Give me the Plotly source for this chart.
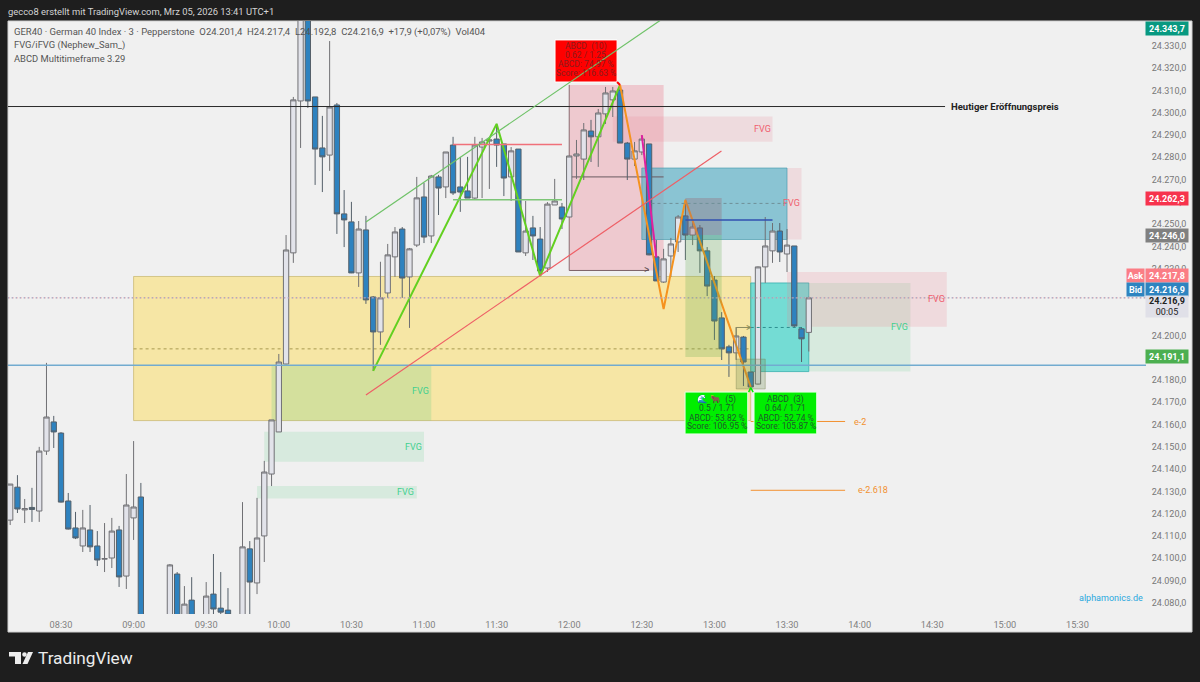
import pandas as pd
import plotly.graph_objects as go

DAY = "2026-03-05 "

# 3 minute candles
opens = [
    24117.1, 24131.9, 24121.7, 24122.8, 24121.2, 24148.1, 24161.2, 24156.2, 24125.7, 24113.6,
    24105.5, 24112.7, 24105.5, 24099.6, 24100.1, 24112.7, 24092.0, 24118.1, 24127.5, 24063.0,
    24050.0, 24058.0, 24068.0, 24092.9, 24070.0, 24081.2, 24070.0, 24072.0, 24083.9, 24077.6,
    24076.7, 24074.0, 24070.0, 24104.2, 24088.9, 24110.0, 24137.8, 24156.7, 24187.2, 24237.1,
    24305.3, 24343.0, 24307.1, 24284.2, 24281.0, 24303.5, 24254.6, 24251.0, 24228.1, 24247.4,
    24217.3, 24201.6, 24219.1, 24235.3, 24247.8, 24226.3, 24240.6, 24262.2, 24244.7, 24271.2,
    24266.7, 24285.5, 24266.7, 24264.9, 24261.7, 24284.6, 24287.3, 24288.2, 24286.0, 24271.2,
    24283.7, 24237.1, 24248.3, 24243.3, 24230.3, 24258.6, 24257.7, 24253.2, 24280.6, 24279.2,
    24291.8, 24289.2, 24299.5, 24305.8, 24310.2, 24286.4, 24279.2, 24282.4, 24286.0, 24235.3,
    24224.0, 24235.7, 24242.0, 24253.7, 24245.1, 24248.3, 24238.0, 24224.9, 24207.9, 24194.9,
    24192.2, 24199.3, 24183.6, 24178.2, 24230.8, 24238.0, 24246.9, 24236.6, 24240.2, 24203.0,
    24201.4,
]
highs = [
    24133.3, 24137.3, 24126.6, 24131.6, 24150.0, 24187.7, 24163.9, 24156.6, 24129.3, 24120.8,
    24121.7, 24123.9, 24112.2, 24115.8, 24118.1, 24114.5, 24137.8, 24152.6, 24133.8, 24068.0,
    24066.0, 24072.0, 24097.4, 24093.8, 24087.5, 24091.5, 24074.5, 24089.3, 24101.9, 24093.8,
    24086.6, 24074.5, 24125.2, 24107.7, 24127.1, 24143.7, 24162.1, 24191.7, 24245.1, 24307.1,
    24343.7, 24343.7, 24307.1, 24298.6, 24332.2, 24304.4, 24265.3, 24260.0, 24251.4, 24253.7,
    24217.7, 24233.1, 24241.1, 24248.7, 24248.7, 24239.3, 24271.2, 24268.5, 24272.1, 24272.1,
    24282.4, 24289.2, 24280.2, 24280.2, 24289.2, 24288.7, 24288.7, 24295.0, 24286.0, 24284.6,
    24283.7, 24260.4, 24253.7, 24248.7, 24259.9, 24270.3, 24259.5, 24280.6, 24287.8, 24295.4,
    24296.8, 24301.7, 24311.6, 24311.6, 24312.5, 24286.9, 24286.9, 24290.0, 24286.0, 24242.9,
    24238.9, 24243.8, 24254.1, 24260.9, 24252.3, 24249.6, 24239.7, 24226.7, 24210.5, 24195.8,
    24203.8, 24199.8, 24183.6, 24231.0, 24253.2, 24250.5, 24250.5, 24247.8, 24240.2, 24203.8,
    24217.4,
]
lows = [
    24114.9, 24120.3, 24115.8, 24116.3, 24116.3, 24146.4, 24149.5, 24125.0, 24112.9, 24108.6,
    24102.8, 24102.8, 24096.5, 24093.8, 24095.6, 24087.1, 24086.2, 24108.2, 24060.0, 24048.0,
    24046.0, 24055.0, 24064.0, 24066.0, 24066.0, 24066.0, 24066.0, 24068.0, 24072.0, 24074.0,
    24073.0, 24068.0, 24066.0, 24072.0, 24083.9, 24098.3, 24132.4, 24156.7, 24187.0, 24232.6,
    24284.2, 24302.2, 24267.6, 24264.4, 24273.9, 24245.6, 24239.7, 24228.0, 24221.8, 24214.2,
    24184.1, 24195.8, 24216.9, 24226.3, 24216.9, 24203.4, 24239.7, 24241.5, 24241.5, 24254.1,
    24261.7, 24263.1, 24255.5, 24261.7, 24260.9, 24261.7, 24265.8, 24275.7, 24262.6, 24260.4,
    24237.5, 24235.7, 24233.9, 24226.7, 24228.5, 24258.6, 24247.8, 24253.2, 24270.3, 24269.8,
    24277.9, 24275.7, 24295.0, 24298.1, 24286.4, 24269.8, 24276.1, 24281.0, 24236.0, 24224.5,
    24223.6, 24226.3, 24237.5, 24233.9, 24240.6, 24228.1, 24217.7, 24198.0, 24189.0, 24181.4,
    24189.0, 24177.3, 24176.9, 24178.0, 24223.6, 24232.6, 24233.0, 24228.5, 24203.4, 24188.1,
    24192.8,
]
closes = [
    24133.3, 24122.1, 24122.3, 24121.9, 24148.1, 24163.4, 24156.7, 24125.2, 24113.1, 24109.1,
    24113.6, 24105.1, 24099.2, 24099.8, 24112.2, 24091.6, 24123.9, 24123.0, 24063.3, 24050.0,
    24058.0, 24068.0, 24097.0, 24070.0, 24079.4, 24070.0, 24073.0, 24083.0, 24077.2, 24075.8,
    24074.5, 24072.0, 24105.1, 24089.3, 24109.1, 24138.7, 24162.1, 24188.1, 24238.4, 24305.8,
    24343.0, 24305.3, 24283.7, 24280.2, 24302.6, 24254.6, 24251.9, 24228.1, 24247.8, 24216.0,
    24201.6, 24216.9, 24236.2, 24246.5, 24225.8, 24238.9, 24261.8, 24244.2, 24271.6, 24266.2,
    24282.4, 24264.0, 24264.4, 24261.7, 24285.5, 24286.9, 24287.8, 24285.5, 24270.7, 24282.9,
    24237.5, 24246.9, 24244.7, 24229.0, 24259.0, 24260.4, 24252.3, 24280.6, 24281.5, 24292.3,
    24289.2, 24299.9, 24308.9, 24309.8, 24286.4, 24279.2, 24282.9, 24288.2, 24236.2, 24224.5,
    24234.4, 24241.1, 24253.2, 24245.1, 24248.7, 24238.0, 24222.2, 24206.5, 24194.0, 24192.2,
    24199.8, 24188.1, 24176.9, 24230.8, 24240.2, 24246.9, 24237.5, 24240.6, 24204.3, 24198.5,
    24216.9,
]
times = pd.date_range(DAY + "08:09", periods=len(opens), freq="3min")

x_ticks = ["08:30", "09:00", "09:30", "10:00", "10:30", "11:00", "11:30", "12:00",
           "12:30", "13:00", "13:30", "14:00", "14:30", "15:00", "15:30"]
y_ticks = [24330, 24320, 24310, 24300, 24290, 24280, 24270, 24260, 24250, 24240, 24230, 24210,
           24200, 24180, 24170, 24160, 24150, 24140, 24130, 24120, 24110, 24100, 24090, 24080]
y_labels = ["24.330,0", "24.320,0", "24.310,0", "24.300,0", "24.290,0", "24.280,0", "24.270,0",
            "24.260,0", "24.250,0", "24.240,0", "24.230,0", "24.210,0", "24.200,0",
            "24.180,0", "24.170,0", "24.160,0", "24.150,0", "24.140,0", "24.130,0",
            "24.120,0", "24.110,0", "24.100,0", "24.090,0", "24.080,0"]

# abcd legs
green_leg_t = ["10:39", "11:30", "11:48", "12:21"]
green_leg_p = [24184.1, 24295.0, 24226.7, 24312.5]
orange_leg_t = ["12:21", "12:39", "12:48", "13:15"]
orange_leg_p = [24312.5, 24211.9, 24260.9, 24176.9]
magenta_leg_t = ["12:30", "12:36"]
magenta_leg_p = [24290.0, 24235.0]

# callout texts, one line each
red_callout = ["ABCD  (10)", "0.62 / 1.25", "ABCD: 74.97 %", "Score: 116.63 %"]
left_callout = ["🌊 🐂  (5)", "0.5 / 1.71", "ABCD: 53.82 %", "Score: 106.95 %"]
right_callout = ["ABCD  (3)", "0.64 / 1.71", "ABCD: 52.74 %", "Score: 105.87 %"]

FONT = "Roboto"
BULL_FILL = "#e2e3ea"
BEAR_FILL = "#2e82bf"
GREEN = "#62d020"
ORANGE = "#f5921e"
FVG_RED = "#f0606e"
FVG_GREEN = "#3fd08f"

# plot area in the 1200x682 picture
L, R, T, B = 8, 1146, 21, 614


def ts(hhmm):
    return DAY + hhmm


def px(x):
    return (x - L) / (R - L)


def py(y):
    return 1 - (y - T) / (B - T)


fig = go.Figure()
fig.add_trace(go.Candlestick(
    x=times, open=opens, high=highs, low=lows, close=closes,
    increasing=dict(line=dict(color="#707074", width=1), fillcolor=BULL_FILL),
    decreasing=dict(line=dict(color="#55606a", width=1), fillcolor=BEAR_FILL),
    hoverinfo="skip",
))

for leg_t, leg_p, colour in [(green_leg_t, green_leg_p, GREEN),
                             (orange_leg_t, orange_leg_p, ORANGE),
                             (magenta_leg_t, magenta_leg_p, "#e020a0")]:
    fig.add_trace(go.Scatter(x=[ts(t) for t in leg_t], y=leg_p, mode="lines",
                             line=dict(color=colour, width=2), hoverinfo="skip"))

shapes = []


def box(t0, t1, p0, p1, fill, line=None, layer="below"):
    shapes.append(dict(type="rect", xref="x", yref="y", x0=ts(t0), x1=ts(t1), y0=p0, y1=p1,
                       fillcolor=fill, layer=layer,
                       line=dict(color=line or "rgba(0,0,0,0)", width=1)))


def seg(t0, p0, t1, p1, colour, width=1, dash="solid", layer="above"):
    shapes.append(dict(type="line", xref="x", yref="y", x0=ts(t0), x1=ts(t1), y0=p0, y1=p1,
                       layer=layer, line=dict(color=colour, width=width, dash=dash)))


# frame, drawn on the paper
shapes.append(dict(type="rect", xref="paper", yref="paper", x0=0, x1=px(1192), y0=py(632), y1=1,
                   fillcolor="#f0f0f0", line=dict(color="#d0d0d0", width=1), layer="below"))

# zones under the candles
box("09:00", "13:15", 24226.5, 24161.8, "rgba(252,220,90,0.5)", "rgba(190,170,90,0.6)")
box("09:57", "11:03", 24186.3, 24161.8, "rgba(90,205,130,0.22)")
box("09:54", "11:00", 24156.8, 24143.3, "rgba(90,205,130,0.16)")
box("09:51", "10:57", 24132.4, 24126.8, "rgba(90,205,130,0.16)")
box("12:00", "12:39", 24312.5, 24229.2, "rgba(235,130,145,0.35)")
box("12:18", "13:24", 24298.3, 24287.0, "rgba(235,130,145,0.18)")
box("12:30", "13:36", 24275.2, 24243.1, "rgba(235,130,145,0.18)")
box("12:30", "13:30", 24275.2, 24243.1, "rgba(85,185,205,0.65)", "rgba(60,150,170,0.6)")
box("13:15", "14:21", 24223.6, 24183.8, "rgba(90,205,130,0.16)")
box("13:15", "13:39", 24223.6, 24183.8, "rgba(50,210,205,0.6)", "rgba(40,170,170,0.7)")
box("13:30", "14:36", 24228.5, 24203.9, "rgba(235,130,145,0.2)")

seg("09:00", 24194.0, "13:15", 24194.0, "#a89a50", dash="dot", layer="below")
seg("12:00", 24312.5, "12:00", 24229.2, "#8a6a70", layer="below")
seg("12:00", 24229.2, "12:33", 24229.2, "#7a6066", layer="below")
seg("12:00", 24271.2, "12:39", 24271.2, "#6a5a60", layer="below")

# price lines
seg("08:08", 24302.8, "14:35:18", 24302.8, "#2a2a2a", width=1)
seg("08:08", 24186.6, "15:59", 24186.6, "#72abd0", width=1.5)
seg("08:08", 24216.9, "15:59", 24216.9, "#f2a0a6", dash="2px,2px")
seg("08:08", 24216.9, "15:59", 24216.9, "#6aa6d0", dash="1px,3px")

# zones over the candles
box("12:48", "13:03", 24261.7, 24245.1, "rgba(150,110,120,0.35)", None, "above")
box("12:48", "13:03", 24245.1, 24190.4, "rgba(100,170,80,0.25)", None, "above")
box("13:09", "13:21", 24189.4, 24176.0, "rgba(110,140,80,0.28)", "rgba(120,130,80,0.4)", "above")
seg("12:34", 24259.3, "13:30", 24259.3, "#6f8f98", dash="dot")
seg("13:15", 24203.6, "13:36", 24203.6, "#2f8f90", dash="dot")
seg("13:09", 24203.6, "13:09", 24189.4, "#8a8a60")
seg("13:09", 24203.6, "13:15", 24203.6, "#8a8a60")

seg("11:12", 24285.8, "11:57", 24285.8, "#f0707a", width=1.5)
seg("11:12", 24260.9, "11:57", 24260.9, "#7cc576", width=1.5)
seg("12:48", 24251.9, "13:24", 24251.9, "#3050b0", width=1.5)
seg("13:15", 24161.4, "13:54", 24161.4, "#f29030")
seg("13:15", 24130.5, "13:54", 24130.5, "#f29030")

# callout boxes
box("11:54:08", "12:19:47", 24332.7, 24313.8, "#ff0000", "#ffffff", "above")
box("12:47:52", "13:13:46", 24174.6, 24155.8, "#00ee00", "#e8ffe8", "above")
box("13:16:22", "13:42:16", 24174.6, 24155.8, "#00ee00", "#e8ffe8", "above")
seg("12:19:47", 24313.8, "12:21", 24312.5, "#ff0000", width=2)
seg("13:14:10", 24174.6, "13:15", 24176.6, "#00ee00", width=1.5)
seg("13:15", 24176.6, "13:16:00", 24174.6, "#00ee00", width=1.5)

# channel lines run over everything
seg("10:36", 24251.0, "12:37:54", 24341.7, "#6fc268", width=1.2)
seg("10:36", 24173.3, "13:02:54", 24282.8, "#ee5f66", width=1.2)

notes = []


def text(t, p, label, colour, size=9, anchor="center", bold=False):
    if bold:
        label = "<b>" + label + "</b>"
    notes.append(dict(xref="x", yref="y", x=ts(t), y=p, text=label, showarrow=False,
                      xanchor=anchor, font=dict(family=FONT, size=size, color=colour)))


def screen(x, y, label, colour, size=9.5, anchor="left", bold=False):
    if bold:
        label = "<b>" + label + "</b>"
    notes.append(dict(xref="paper", yref="paper", x=px(x), y=py(y), text=label, showarrow=False,
                      xanchor=anchor, yanchor="middle",
                      font=dict(family=FONT, size=size, color=colour)))


text("10:58:45", 24175.0, "FVG", FVG_GREEN)
text("10:55:30", 24150.0, "FVG", FVG_GREEN)
text("10:52:30", 24129.6, "FVG", FVG_GREEN)
text("13:19:40", 24292.6, "FVG", FVG_RED)
text("13:31:40", 24259.3, "FVG", FVG_RED)
text("14:31:35", 24216.4, "FVG", FVG_RED)
text("14:16:40", 24203.6, "FVG", FVG_GREEN)
text("14:00", 24161.1, "e-2", "#f29030")
text("14:05:30", 24130.5, "e-2.618", "#f29030")
text("14:36:58", 24302.8, "Heutiger Eröffnungspreis", "#222222", size=9.5, anchor="left", bold=True)
text("12:32", 24229.6, "&gt;", "#5a4a50", size=10)
text("13:14", 24203.8, "&gt;", "#8a8a50", size=10)

red_rows = [24329.7, 24325.9, 24321.9, 24318.0]
green_rows = [24171.2, 24167.4, 24163.1, 24159.4]
for label, row in zip(red_callout, red_rows):
    text("12:06:54", row, label, "#8a1c1c", size=8.5)
for label, row in zip(left_callout, green_rows):
    text("13:00:54", row, label, "#1f5a2a", size=8.5)
for label, row in zip(right_callout, green_rows):
    text("13:29:24", row, label, "#1f5a2a", size=8.5)

screen(6, 11, "gecco8 erstellt mit TradingView.com, Mrz 05, 2026 13:41 UTC+1", "#d4d4d4", size=9.4)
screen(12, 32, "GER40 · German 40 Index · 3 · Pepperstone  O24.201,4  H24.217,4  L24.192,8  C24.216,9  +17,9 (+0,07%)  Vol404",
       "#555555")
screen(12, 45, "FVG/iFVG (Nephew_Sam_)", "#555555", size=9.4)
screen(12, 58, "ABCD Multitimeframe 3.29", "#555555", size=9.4)
screen(1077, 598, "alphamonics.de", "#2aa8de", size=9)
screen(36, 658, "TradingView", "#ececec", size=17.2)

# price tags on the axis
tag_texts = ["24.343,7", "24.262,3", "24.246,0", "24.217,8", "24.216,9", "24.191,1"]
tag_colours = ["#089981", "#f7334d", "#808080", "#fb7d85", "#2e84c0", "#4caf50"]
tag_rows = [28, 198.7, 235, 275.5, 289.5, 356.5]
for label, colour, row in zip(tag_texts, tag_colours, tag_rows):
    notes.append(dict(xref="paper", yref="paper", x=px(1145), y=py(row), text="<b>" + label + "</b>",
                      showarrow=False, xanchor="left", yanchor="middle", bgcolor=colour,
                      width=42, height=13, borderpad=0,
                      font=dict(family=FONT, size=9, color="#ffffff")))
for label, colour, row in [("Ask", "#fb7d85", 275.5), ("Bid", "#2e84c0", 289.5)]:
    notes.append(dict(xref="paper", yref="paper", x=px(1126), y=py(row), text="<b>" + label + "</b>",
                      showarrow=False, xanchor="left", yanchor="middle", bgcolor=colour,
                      width=17, height=13, borderpad=0,
                      font=dict(family=FONT, size=9, color="#ffffff")))
notes.append(dict(xref="paper", yref="paper", x=px(1145), y=py(306.5),
                  text="<b>24.216,9</b><br>00:05", showarrow=False, xanchor="left", yanchor="middle",
                  bgcolor="#e0e0e8", width=42, height=21, borderpad=0,
                  font=dict(family=FONT, size=9, color="#222222")))


# tradingview mark, drawn on the paper
def paper_path(points):
    return "M " + " L ".join(f"{px(x):.5f},{py(y):.5f}" for x, y in points) + " Z"


for pts in [[(9, 652), (21, 652), (21, 664), (15, 664), (15, 656.5), (9, 656.5)],
            [(28, 652), (33, 652), (27.5, 664), (22.5, 664)]]:
    shapes.append(dict(type="path", xref="paper", yref="paper", path=paper_path(pts),
                       fillcolor="#ececec", line=dict(width=0), layer="above"))
shapes.append(dict(type="circle", xref="paper", yref="paper", x0=px(22.2), x1=px(26.8), y0=py(656.8), y1=py(652.2),
                   fillcolor="#ececec", line=dict(width=0), layer="above"))

fig.update_layout(
    width=1200,
    height=682,
    margin=dict(l=L, r=1200 - R, t=T, b=682 - B),
    paper_bgcolor="#1e1e1e",
    plot_bgcolor="#f0f0f0",
    showlegend=False,
    boxgap=0.27,
    boxgroupgap=0,
    shapes=shapes,
    annotations=notes,
    xaxis=dict(
        type="date",
        range=[ts("08:08:06"), ts("15:58:20")],
        rangeslider=dict(visible=False),
        showgrid=False,
        zeroline=False,
        showline=False,
        tickmode="array",
        tickvals=[ts(t) for t in x_ticks],
        ticktext=x_ticks,
        ticks="outside",
        ticklen=2,
        tickcolor="rgba(0,0,0,0)",
        tickfont=dict(family=FONT, size=9.2, color="#808080"),
    ),
    yaxis=dict(
        side="right",
        range=[24074.96, 24341.2],
        showgrid=False,
        zeroline=False,
        showline=False,
        tickmode="array",
        tickvals=y_ticks,
        ticktext=y_labels,
        ticks="outside",
        ticklen=3,
        tickcolor="rgba(0,0,0,0)",
        tickfont=dict(family=FONT, size=9, color="#777777"),
    ),
)

fig.write_html("out.html", config=dict(displayModeBar=False),
               post_script="document.body.style.margin='0';document.body.style.background='#1e1e1e';")
